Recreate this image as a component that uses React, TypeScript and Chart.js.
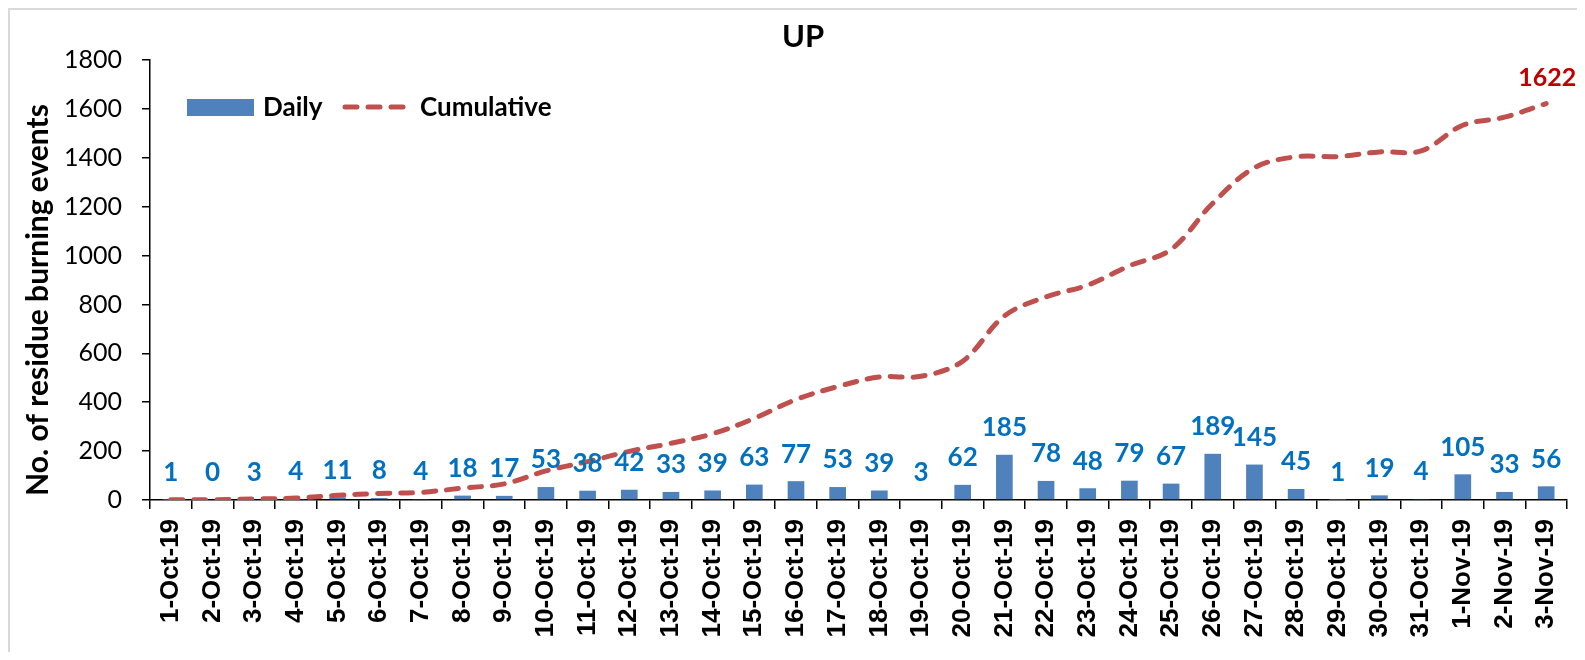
import React, { useEffect, useRef } from "react";
import { Chart, registerables } from "chart.js";

Chart.register(...registerables);

const categories = [
  "1-Oct-19", "2-Oct-19", "3-Oct-19", "4-Oct-19", "5-Oct-19", "6-Oct-19", "7-Oct-19",
  "8-Oct-19", "9-Oct-19", "10-Oct-19", "11-Oct-19", "12-Oct-19", "13-Oct-19", "14-Oct-19",
  "15-Oct-19", "16-Oct-19", "17-Oct-19", "18-Oct-19", "19-Oct-19", "20-Oct-19", "21-Oct-19",
  "22-Oct-19", "23-Oct-19", "24-Oct-19", "25-Oct-19", "26-Oct-19", "27-Oct-19", "28-Oct-19",
  "29-Oct-19", "30-Oct-19", "31-Oct-19", "1-Nov-19", "2-Nov-19", "3-Nov-19",
];

const daily = [
  1, 0, 3, 4, 11, 8, 4, 18, 17, 53, 38, 42, 33, 39, 63, 77, 53, 39, 3, 62, 185,
  78, 48, 79, 67, 189, 145, 45, 1, 19, 4, 105, 33, 56,
];

const cumulative = [
  1, 1, 4, 8, 19, 27, 31, 49, 66, 119, 157, 199, 232, 271, 334, 411, 464, 503,
  506, 568, 753, 831, 879, 958, 1025, 1214, 1359, 1404, 1405, 1424, 1428, 1533,
  1566, 1622,
];

const yTicks = [0, 200, 400, 600, 800, 1000, 1200, 1400, 1600, 1800];

const title = "UP";
const yTitle = "No. of residue burning events";
const legendLabels = ["Daily", "Cumulative"];

const BAR_COLOR = "#4F81BD";
const LINE_COLOR = "#C0504D";
const LABEL_BLUE = "#0070C0";
const LABEL_RED = "#C00000";
const FONT = "Lato, 'Open Sans', sans-serif";

const decorPlugin = {
  id: "decor",
  afterDatasetsDraw(chart: any) {
    const ctx = chart.ctx;
    ctx.save();
    // frame (top/left visible border)
    ctx.strokeStyle = "#d9d9d9";
    ctx.lineWidth = 2;
    ctx.beginPath();
    ctx.moveTo(1, chart.height);
    ctx.lineTo(1, 1);
    ctx.lineTo(chart.width, 1);
    ctx.stroke();

    // bar data labels
    const barMeta = chart.getDatasetMeta(0);
    ctx.fillStyle = LABEL_BLUE;
    ctx.font = `bold 26px ${FONT}`;
    ctx.textAlign = "center";
    ctx.textBaseline = "middle";
    barMeta.data.forEach((el: any, i: number) => {
      ctx.fillText(String(daily[i]), el.x, el.y - 27);
    });

    // last cumulative label
    const lineMeta = chart.getDatasetMeta(1);
    const last = lineMeta.data[lineMeta.data.length - 1];
    ctx.fillStyle = LABEL_RED;
    ctx.font = `bold 25px ${FONT}`;
    ctx.fillText(String(cumulative[cumulative.length - 1]), last.x + 1, last.y - 26);

    // title
    ctx.fillStyle = "#000";
    ctx.font = `bold 31px ${FONT}`;
    ctx.fillText(title, 795, 29);

    // y axis title
    ctx.save();
    ctx.translate(30, 292);
    ctx.rotate(-Math.PI / 2);
    ctx.font = `bold 30px ${FONT}`;
    ctx.fillText(yTitle, 0, 0);
    ctx.restore();

    // legend
    ctx.fillStyle = BAR_COLOR;
    ctx.fillRect(179, 91, 67, 17);
    ctx.fillStyle = "#000";
    ctx.font = `bold 26px ${FONT}`;
    ctx.textAlign = "left";
    ctx.fillText(legendLabels[0], 255, 100);
    ctx.strokeStyle = LINE_COLOR;
    ctx.lineWidth = 5;
    ctx.lineCap = "round";
    ctx.setLineDash([12, 11]);
    ctx.beginPath();
    ctx.moveTo(337, 99);
    ctx.lineTo(396, 99);
    ctx.stroke();
    ctx.setLineDash([]);
    ctx.fillText(legendLabels[1], 412, 100);
    ctx.restore();
  },
};

export default function App() {
  const ref = useRef<HTMLCanvasElement | null>(null);
  useEffect(() => {
    if (!ref.current) return;
    const chart = new Chart(ref.current, {
      type: "bar",
      data: {
        labels: categories,
        datasets: [
          {
            type: "bar",
            label: legendLabels[0],
            data: daily,
            backgroundColor: BAR_COLOR,
            barPercentage: 0.4,
            categoryPercentage: 1,
            order: 1,
          },
          {
            type: "line",
            label: legendLabels[1],
            data: cumulative,
            borderColor: LINE_COLOR,
            borderWidth: 5,
            borderDash: [12, 11],
            borderCapStyle: "round",
            tension: 0.35,
            pointRadius: 0,
            fill: false,
            order: 0,
          },
        ],
      } as any,
      options: {
        responsive: false,
        animation: false,
        devicePixelRatio: 1,
        layout: { padding: { top: 52, right: 10, left: 0, bottom: 0 } },
        plugins: {
          legend: { display: false },
          tooltip: { enabled: false },
          title: { display: false },
        },
        scales: {
          x: {
            offset: true,
            grid: {
              offset: true,
              drawOnChartArea: false,
              drawTicks: true,
              tickLength: 9,
              color: "#000",
              lineWidth: 1.5,
            },
            border: { display: true, color: "#000", width: 1.5 },
            ticks: {
              minRotation: 90,
              maxRotation: 90,
              autoSkip: false,
              padding: 10,
              color: "#000",
              font: { family: "'Liberation Sans', Arial, sans-serif", size: 26, weight: "bold" },
            },
            afterFit(scale: any) {
              scale.height = 152;
              scale.paddingLeft = 0;
              scale.paddingRight = 0;
            },
          },
          y: {
            min: 0,
            max: 1800,
            afterBuildTicks(scale: any) {
              scale.ticks = yTicks.map((v) => ({ value: v }));
            },
            grid: {
              drawOnChartArea: false,
              drawTicks: true,
              tickLength: 8,
              color: "#000",
              lineWidth: 1.5,
            },
            border: { display: true, color: "#000", width: 1.5 },
            ticks: {
              padding: 20,
              color: "#000",
              font: { family: FONT, size: 25 },
              callback: (v: any) => String(v),
            },
            afterFit(scale: any) {
              scale.width = 142;
              scale.paddingTop = 0;
              scale.paddingBottom = 0;
            },
          },
        },
      } as any,
      plugins: [decorPlugin],
    });
    return () => chart.destroy();
  }, []);
  return (
    <div style={{ width: 1569, height: 644 }}>
      <canvas ref={ref} width={1569} height={644} style={{ display: "block" }} />
    </div>
  );
}
